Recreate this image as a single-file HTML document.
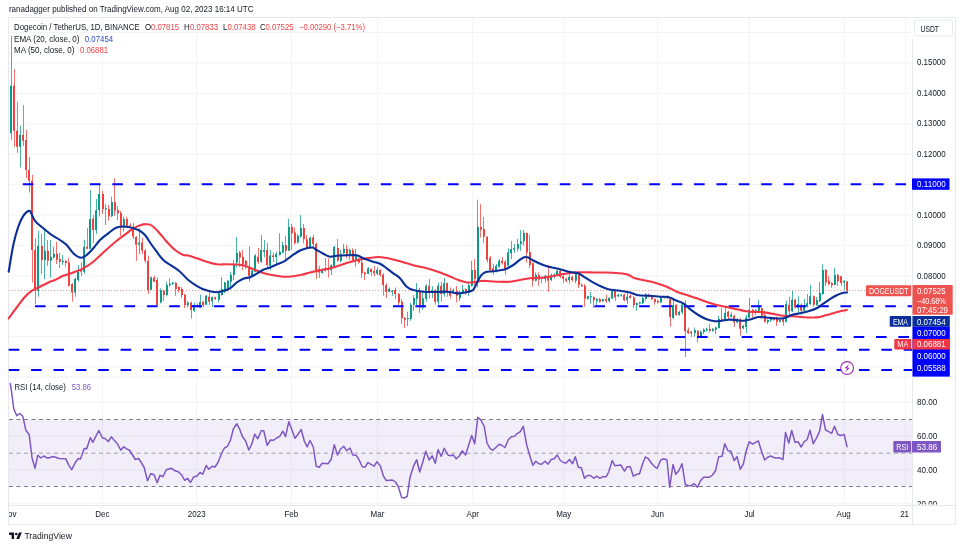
<!DOCTYPE html>
<html><head><meta charset="utf-8"><title>DOGEUSDT chart</title>
<style>html,body{margin:0;padding:0;background:#fff}svg{display:block}</style></head>
<body><svg width="963" height="546" viewBox="0 0 963 546" font-family='"Liberation Sans", sans-serif'>
<rect width="963" height="546" fill="#fff"/>
<path d="M102.5 18V505M196.7 18V505M291.3 18V505M377.5 18V505M472.8 18V505M563.7 18V505M657.5 18V505M749.5 18V505M844.5 18V505M905.5 18V505M9 32.5H912M9 63H912M9 93.4H912M9 123.8H912M9 154.2H912M9 184.6H912M9 215H912M9 245.4H912M9 275.8H912M9 306.2H912M9 336.6H912M9 367H912M9 402.2H912M9 436H912M9 469.8H912M9 503.3H912" stroke="#f2f3f5" stroke-width="1" fill="none"/>
<rect x="9" y="419.5" width="903.5" height="67" fill="#7e57c2" fill-opacity="0.1"/>
<path d="M9 419.5H912M9 486.5H912" stroke="#787b86" stroke-width="1" stroke-dasharray="3.9 3.6" fill="none"/>
<path d="M9 453.2H912" stroke="#787b86" stroke-opacity="0.7" stroke-width="1" stroke-dasharray="3.9 3.6" fill="none"/>
<path d="M8.5 377H955" stroke="#eceef3" stroke-width="1" fill="none"/>
<path d="M8.5 505.5H955M912.5 39V524.5" stroke="#e5e8ef" stroke-width="1" fill="none"/>
<rect x="8.5" y="17.5" width="947" height="507" fill="none" stroke="#e5e8ef" stroke-width="1"/>
<path d="M9 290.5H912" stroke="#ee423f" stroke-width="1" stroke-dasharray="1 2" stroke-opacity="0.55" fill="none"/>
<path d="M11.5 36.0V139.7M20.5 125.8V167.5M38.5 230.8V296.7M44.5 230.0V279.0M50.5 240.0V277.5M53.5 246.7V258.5M62.5 255.0V265.0M75.5 277.5V296.7M78.5 265.0V281.7M84.5 239.7V273.8M90.5 190.0V249.0M96.5 199.0V234.0M99.5 184.0V216.7M105.5 204.0V225.0M111.5 196.7V217.0M123.5 216.7V231.7M139.5 228.0V254.0M151.5 276.5V290.0M160.5 288.3V303.3M166.5 282.0V296.3M169.5 278.3V286.7M172.5 281.7V285.0M187.5 301.3V307.5M194.5 302.5V312.0M200.5 294.7V308.0M206.5 295.0V305.0M212.5 296.7V307.0M218.5 292.5V302.5M221.5 277.0V295.8M224.5 281.7V293.3M227.5 280.0V291.3M230.5 271.7V287.0M233.5 260.0V280.0M236.5 237.0V267.5M252.5 270.0V276.5M255.5 254.0V272.0M261.5 235.0V263.0M264.5 240.0V257.5M270.5 250.0V270.3M276.5 251.7V264.0M279.5 233.3V255.5M282.5 241.7V253.3M288.5 218.7V251.0M297.5 234.0V243.5M300.5 215.0V237.5M310.5 236.7V248.0M322.5 268.3V273.7M331.5 264.2V275.0M334.5 245.5V267.5M340.5 249.7V262.5M343.5 243.8V254.2M349.5 248.7V260.0M355.5 249.0V266.7M368.5 267.0V274.2M377.5 267.5V275.0M389.5 287.5V292.5M392.5 290.0V295.8M407.5 311.7V326.0M410.5 303.0V320.8M413.5 295.0V310.8M416.5 283.0V305.0M422.5 290.8V309.7M426.5 284.0V301.7M432.5 286.3V298.0M438.5 282.5V305.0M444.5 278.0V296.7M453.5 288.3V293.3M459.5 291.0V300.8M462.5 285.0V294.2M468.5 283.0V296.0M471.5 260.8V286.7M477.5 199.7V287.5M496.5 264.0V272.5M499.5 259.0V267.5M508.5 248.3V266.7M511.5 240.8V259.0M514.5 244.0V253.0M517.5 239.0V251.7M520.5 230.0V250.8M523.5 230.0V245.8M535.5 272.5V281.5M545.5 275.0V282.5M551.5 273.3V281.3M554.5 273.3V278.3M557.5 269.7V275.8M569.5 274.0V283.7M575.5 271.7V283.3M587.5 295.8V299.7M590.5 292.0V303.7M596.5 298.3V305.0M602.5 298.5V302.0M609.5 297.0V302.5M612.5 289.7V299.2M618.5 293.7V297.0M621.5 294.0V296.7M627.5 292.5V304.0M636.5 302.5V310.8M639.5 301.7V304.5M642.5 297.0V304.2M645.5 293.3V300.8M660.5 295.8V303.3M664.5 296.3V298.7M673.5 299.7V319.2M679.5 310.8V315.8M682.5 302.5V314.2M694.5 327.5V336.7M700.5 330.3V337.0M703.5 328.3V334.2M706.5 327.5V331.7M712.5 328.0V331.7M715.5 326.7V334.0M718.5 315.8V328.5M725.5 305.8V320.3M731.5 312.5V317.5M737.5 318.3V323.3M743.5 325.0V329.2M746.5 315.0V333.0M749.5 298.0V318.3M755.5 309.2V315.0M758.5 300.0V311.7M767.5 319.2V324.0M770.5 317.5V322.0M779.5 318.7V322.5M786.5 300.8V322.5M792.5 290.8V312.0M798.5 296.3V313.0M804.5 299.0V311.7M807.5 294.0V307.5M810.5 285.0V305.0M816.5 297.0V305.8M819.5 282.0V302.0M822.5 264.0V294.7M834.5 268.0V285.3M844.5 280.0V290.0" stroke="#0e9a88" stroke-width="1" stroke-opacity="0.75" fill="none"/>
<path d="M14.5 69.2V146.7M17.5 101.7V153.0M23.5 105.0V146.0M26.5 130.0V178.0M29.5 157.0V192.5M32.5 175.0V282.5M35.5 238.3V304.0M41.5 234.0V274.0M47.5 240.0V265.8M56.5 241.7V264.0M59.5 253.0V268.0M65.5 260.0V266.7M68.5 258.0V286.7M72.5 283.0V301.7M81.5 262.5V276.0M87.5 228.0V249.0M93.5 215.0V243.0M102.5 191.0V214.0M108.5 205.0V220.8M114.5 178.3V215.8M117.5 206.0V220.0M120.5 211.0V235.8M126.5 216.7V227.5M130.5 223.3V227.5M133.5 223.0V239.0M136.5 236.0V260.8M142.5 238.0V254.0M145.5 249.0V263.0M148.5 255.8V294.0M154.5 275.8V282.0M157.5 277.5V306.0M163.5 290.0V300.8M175.5 282.0V295.8M178.5 286.3V292.5M181.5 287.0V298.0M184.5 294.0V308.3M191.5 301.5V318.5M197.5 303.3V307.5M203.5 300.8V307.0M209.5 290.3V305.0M215.5 296.7V300.0M239.5 250.8V267.0M242.5 250.0V270.3M245.5 260.0V269.2M249.5 245.8V281.7M258.5 248.0V264.0M267.5 242.5V269.0M273.5 252.5V262.0M285.5 235.8V260.8M291.5 224.0V250.0M294.5 227.5V244.7M303.5 224.0V243.3M306.5 235.0V249.0M313.5 234.7V249.0M316.5 242.5V279.0M319.5 265.8V278.0M325.5 258.0V271.7M328.5 258.3V277.5M337.5 239.0V261.7M346.5 245.0V258.3M352.5 248.3V260.8M358.5 257.5V263.7M361.5 258.0V277.8M364.5 271.7V280.0M371.5 268.3V275.8M374.5 266.0V276.3M380.5 269.2V276.7M383.5 273.3V295.8M386.5 283.3V298.0M395.5 287.5V299.0M398.5 293.0V305.0M401.5 299.0V324.0M404.5 317.0V328.0M419.5 288.0V313.0M429.5 279.0V298.7M435.5 289.0V304.7M441.5 281.7V301.7M447.5 282.5V296.7M450.5 287.5V298.3M456.5 286.0V302.5M465.5 288.3V295.0M474.5 259.0V285.0M480.5 204.0V237.5M483.5 217.0V243.0M487.5 236.0V262.5M490.5 256.0V272.0M493.5 264.0V274.7M502.5 257.0V264.7M505.5 260.0V274.7M526.5 232.5V262.5M529.5 234.7V268.0M532.5 262.5V286.7M538.5 272.5V285.8M541.5 276.7V283.0M548.5 265.0V291.7M560.5 269.2V278.0M563.5 275.5V283.0M566.5 277.5V282.5M572.5 275.8V281.7M578.5 273.0V288.0M581.5 283.3V287.0M584.5 284.2V306.7M593.5 296.3V308.0M599.5 298.0V302.5M606.5 294.7V303.0M615.5 290.0V300.8M624.5 293.7V301.3M630.5 294.2V298.7M633.5 296.3V308.0M648.5 293.7V297.5M651.5 295.8V300.3M654.5 298.3V304.7M657.5 299.7V303.7M667.5 295.3V299.0M670.5 297.5V326.7M676.5 304.0V315.8M685.5 300.0V357.0M688.5 327.5V334.2M691.5 331.0V337.0M697.5 330.0V342.5M709.5 323.7V332.5M721.5 307.5V320.8M728.5 310.8V320.0M734.5 314.7V327.0M740.5 318.0V335.8M752.5 308.7V317.5M761.5 307.5V319.0M764.5 310.8V322.5M773.5 317.5V320.8M776.5 316.7V326.0M783.5 318.3V325.8M789.5 296.7V317.5M795.5 298.7V308.3M801.5 303.3V314.7M813.5 295.3V306.7M825.5 269.0V285.8M828.5 275.8V285.3M831.5 282.0V288.0M837.5 273.7V285.8M841.5 275.8V285.8M847.5 281.1V293.1" stroke="#ee423f" stroke-width="1" stroke-opacity="0.75" fill="none"/>
<path d="M10 85.8h2V133.3h-2zM19 135.0h2V146.7h-2zM37 245.8h2V290.8h-2zM44 250.8h2V260.0h-2zM50 256.7h2V260.8h-2zM53 253.7h2V257.5h-2zM62 260.8h2V262.0h-2zM74 279.0h2V292.5h-2zM77 270.0h2V280.0h-2zM83 246.7h2V271.7h-2zM89 219.0h2V248.7h-2zM95 210.3h2V230.0h-2zM98 194.0h2V210.0h-2zM105 208.3h2V209.5h-2zM111 202.0h2V216.3h-2zM123 219.0h2V227.5h-2zM138 242.5h2V244.7h-2zM150 277.5h2V289.7h-2zM160 290.3h2V302.5h-2zM166 284.7h2V295.0h-2zM169 283.7h2V285.3h-2zM172 282.8h2V284.0h-2zM187 302.5h2V305.3h-2zM193 305.0h2V310.8h-2zM199 302.0h2V307.5h-2zM205 295.8h2V304.7h-2zM211 297.0h2V301.3h-2zM218 293.3h2V299.7h-2zM221 289.0h2V295.0h-2zM224 282.5h2V291.7h-2zM227 280.8h2V288.0h-2zM230 274.7h2V281.7h-2zM233 265.0h2V275.0h-2zM236 253.0h2V262.5h-2zM251 270.8h2V275.8h-2zM254 255.5h2V271.7h-2zM260 250.0h2V261.7h-2zM263 250.0h2V251.7h-2zM269 255.5h2V265.8h-2zM275 254.0h2V257.0h-2zM279 251.7h2V255.0h-2zM282 245.0h2V252.5h-2zM288 227.0h2V250.8h-2zM297 235.8h2V242.5h-2zM300 228.0h2V236.7h-2zM309 237.5h2V247.5h-2zM321 269.0h2V273.0h-2zM330 265.3h2V270.0h-2zM333 247.0h2V266.3h-2zM340 253.8h2V260.8h-2zM343 248.7h2V253.3h-2zM349 250.0h2V254.7h-2zM355 255.0h2V260.0h-2zM367 268.3h2V273.7h-2zM376 270.0h2V273.7h-2zM388 288.7h2V291.7h-2zM391 290.8h2V292.0h-2zM407 318.0h2V319.0h-2zM410 304.7h2V318.7h-2zM413 298.0h2V304.7h-2zM416 291.7h2V298.7h-2zM422 298.3h2V307.5h-2zM425 285.8h2V299.0h-2zM431 290.0h2V292.5h-2zM437 285.8h2V301.7h-2zM443 283.3h2V294.0h-2zM452 290.0h2V292.5h-2zM459 292.5h2V298.0h-2zM462 289.7h2V293.0h-2zM468 285.3h2V293.0h-2zM471 270.0h2V285.8h-2zM477 226.7h2V280.0h-2zM495 265.8h2V271.3h-2zM498 260.8h2V266.7h-2zM507 252.5h2V265.8h-2zM510 249.0h2V253.3h-2zM513 248.0h2V249.7h-2zM517 244.0h2V248.7h-2zM520 241.3h2V244.0h-2zM523 233.0h2V241.3h-2zM535 274.7h2V280.8h-2zM544 275.8h2V279.0h-2zM550 275.3h2V280.0h-2zM553 274.7h2V277.0h-2zM556 270.8h2V275.0h-2zM568 276.7h2V280.3h-2zM575 274.0h2V280.8h-2zM587 296.3h2V298.7h-2zM590 296.3h2V297.3h-2zM596 299.0h2V300.8h-2zM602 299.2h2V301.3h-2zM608 298.0h2V301.3h-2zM611 290.8h2V298.3h-2zM617 294.7h2V296.3h-2zM620 294.7h2V295.8h-2zM626 296.7h2V300.3h-2zM636 303.0h2V305.0h-2zM639 302.5h2V303.7h-2zM642 298.0h2V303.3h-2zM645 294.0h2V299.0h-2zM660 297.5h2V302.5h-2zM663 297.0h2V298.0h-2zM672 305.0h2V318.0h-2zM678 311.7h2V314.7h-2zM681 304.7h2V312.5h-2zM694 330.3h2V333.0h-2zM700 331.7h2V336.3h-2zM703 329.7h2V332.0h-2zM706 328.7h2V330.3h-2zM712 329.0h2V330.8h-2zM715 327.5h2V329.7h-2zM718 319.0h2V328.0h-2zM724 313.0h2V319.7h-2zM730 314.7h2V316.7h-2zM736 320.0h2V322.5h-2zM742 325.8h2V328.3h-2zM745 317.5h2V327.0h-2zM748 309.7h2V317.5h-2zM755 310.3h2V312.5h-2zM758 305.5h2V310.8h-2zM767 320.0h2V322.0h-2zM770 318.3h2V320.3h-2zM779 319.7h2V321.7h-2zM785 304.0h2V321.7h-2zM791 299.7h2V311.3h-2zM797 304.0h2V307.5h-2zM803 305.0h2V310.8h-2zM806 303.3h2V306.3h-2zM809 296.3h2V304.0h-2zM816 300.0h2V304.7h-2zM819 293.0h2V301.3h-2zM822 270.0h2V294.0h-2zM834 275.0h2V284.7h-2zM843 280.8h2V282.5h-2z" fill="#0e9a88"/>
<path d="M13 85.8h2V130.8h-2zM16 130.8h2V146.7h-2zM22 135.0h2V140.8h-2zM25 140.0h2V170.0h-2zM28 170.0h2V180.8h-2zM31 180.8h2V250.0h-2zM34 250.0h2V290.8h-2zM41 245.8h2V260.0h-2zM47 250.8h2V260.8h-2zM56 253.7h2V259.7h-2zM59 259.0h2V261.7h-2zM65 261.0h2V263.0h-2zM68 262.5h2V285.8h-2zM71 284.0h2V292.5h-2zM80 270.0h2V271.7h-2zM86 246.7h2V248.7h-2zM92 218.7h2V230.0h-2zM102 194.0h2V209.0h-2zM108 209.0h2V216.3h-2zM114 202.0h2V210.8h-2zM117 210.0h2V213.3h-2zM120 213.0h2V227.5h-2zM126 219.0h2V225.8h-2zM129 225.3h2V226.7h-2zM132 226.7h2V236.7h-2zM135 237.0h2V244.7h-2zM141 242.5h2V250.5h-2zM144 250.5h2V260.8h-2zM147 260.8h2V290.0h-2zM153 277.5h2V281.7h-2zM156 280.0h2V305.0h-2zM163 290.8h2V295.0h-2zM175 282.8h2V289.0h-2zM178 287.0h2V290.0h-2zM181 289.0h2V295.0h-2zM184 294.7h2V305.0h-2zM190 302.5h2V310.0h-2zM196 305.0h2V306.7h-2zM202 301.7h2V305.0h-2zM208 296.7h2V301.7h-2zM214 297.2h2V299.0h-2zM239 252.5h2V257.5h-2zM242 257.0h2V264.0h-2zM245 260.8h2V265.0h-2zM248 267.5h2V275.8h-2zM257 256.7h2V262.0h-2zM266 250.0h2V265.0h-2zM272 255.5h2V257.0h-2zM285 245.0h2V250.8h-2zM291 226.7h2V233.3h-2zM294 232.5h2V243.0h-2zM303 228.0h2V239.2h-2zM306 239.2h2V247.5h-2zM312 237.5h2V244.0h-2zM315 244.0h2V271.7h-2zM318 269.0h2V272.5h-2zM324 268.3h2V270.8h-2zM327 269.0h2V270.3h-2zM337 248.0h2V260.8h-2zM346 249.0h2V254.7h-2zM352 250.3h2V260.0h-2zM358 258.7h2V262.5h-2zM361 262.5h2V273.3h-2zM364 272.5h2V274.0h-2zM370 269.0h2V272.0h-2zM373 270.8h2V273.3h-2zM379 270.0h2V275.0h-2zM382 274.7h2V285.0h-2zM385 285.0h2V291.7h-2zM394 290.0h2V294.0h-2zM398 294.0h2V302.5h-2zM401 301.7h2V318.3h-2zM404 318.0h2V319.7h-2zM419 291.7h2V307.5h-2zM428 285.8h2V292.5h-2zM434 290.0h2V301.7h-2zM440 285.8h2V294.0h-2zM446 283.3h2V292.5h-2zM449 290.8h2V295.8h-2zM456 290.8h2V295.8h-2zM465 289.0h2V293.3h-2zM474 270.0h2V279.0h-2zM480 227.0h2V229.7h-2zM483 229.0h2V236.7h-2zM486 237.0h2V259.7h-2zM489 257.5h2V270.0h-2zM492 268.3h2V271.7h-2zM501 260.8h2V263.3h-2zM504 261.7h2V270.0h-2zM526 233.0h2V252.5h-2zM529 252.0h2V265.0h-2zM532 263.3h2V280.8h-2zM538 275.0h2V279.7h-2zM541 277.5h2V279.0h-2zM547 275.8h2V280.8h-2zM559 270.8h2V276.7h-2zM562 276.3h2V279.0h-2zM565 278.7h2V280.8h-2zM571 276.7h2V280.0h-2zM578 274.0h2V285.0h-2zM581 284.7h2V286.3h-2zM584 285.8h2V298.7h-2zM593 297.0h2V300.0h-2zM599 299.0h2V301.7h-2zM605 299.0h2V301.3h-2zM614 290.8h2V297.5h-2zM623 294.7h2V300.3h-2zM629 295.8h2V298.0h-2zM633 297.5h2V305.0h-2zM648 294.7h2V296.7h-2zM651 296.3h2V299.0h-2zM654 299.0h2V302.0h-2zM657 300.8h2V302.5h-2zM666 296.7h2V298.3h-2zM669 298.3h2V317.0h-2zM675 305.0h2V314.7h-2zM684 304.7h2V331.3h-2zM687 330.3h2V333.0h-2zM690 331.7h2V333.3h-2zM697 330.8h2V336.7h-2zM709 328.7h2V330.8h-2zM721 318.7h2V319.7h-2zM727 311.7h2V316.7h-2zM733 315.8h2V322.5h-2zM739 319.7h2V328.7h-2zM752 310.0h2V312.5h-2zM761 308.3h2V315.8h-2zM764 315.3h2V321.7h-2zM773 318.3h2V320.0h-2zM776 317.5h2V321.7h-2zM782 319.2h2V321.7h-2zM788 304.7h2V311.3h-2zM794 299.7h2V307.5h-2zM800 304.7h2V310.8h-2zM813 296.3h2V304.7h-2zM825 270.0h2V282.5h-2zM828 280.8h2V284.0h-2zM831 283.0h2V285.3h-2zM837 275.0h2V281.3h-2zM840 276.3h2V283.0h-2zM846 281.6h2V290.5h-2z" fill="#ee423f"/>
<path d="M22.8 184.3H912" stroke="#0000ff" stroke-width="2" stroke-dasharray="10.6 11.775" fill="none"/>
<path d="M35 306.2H912" stroke="#0000ff" stroke-width="2" stroke-dasharray="10.6 11.775" fill="none"/>
<path d="M160 337H912" stroke="#0000ff" stroke-width="2" stroke-dasharray="10.6 11.775" fill="none"/>
<path d="M8.7 349.7H912" stroke="#0000ff" stroke-width="2" stroke-dasharray="10.6 11.775" fill="none"/>
<path d="M8.7 370H912" stroke="#0000ff" stroke-width="2" stroke-dasharray="10.6 11.775" fill="none"/>
<path d="M8.7 318.3C10.0 316.5 14.0 311.1 16.7 307.5C19.4 303.9 22.5 299.5 25.0 296.7C27.5 293.9 29.2 292.5 31.7 290.8C34.2 289.1 37.0 288.2 40.0 286.7C43.0 285.2 47.5 282.8 50.0 281.7C52.5 280.6 52.8 281.0 55.0 280.0C57.2 279.0 60.2 277.1 63.3 275.8C66.3 274.6 70.0 273.8 73.3 272.5C76.6 271.2 80.0 270.1 83.3 268.3C86.6 266.5 90.0 264.3 93.3 261.7C96.6 259.1 99.4 256.0 103.3 252.5C107.2 249.0 112.8 244.0 116.7 240.8C120.6 237.6 123.9 235.4 126.7 233.3C129.5 231.2 130.8 229.7 133.3 228.3C135.8 226.9 139.5 225.4 141.7 224.7C143.9 224.0 145.0 224.1 146.7 224.2C148.4 224.3 149.8 224.2 151.7 225.5C153.6 226.8 155.8 229.0 158.3 231.7C160.8 234.4 163.9 238.6 166.7 241.7C169.5 244.8 172.2 247.8 175.0 250.0C177.8 252.2 181.1 254.1 183.3 255.0C185.5 255.9 186.1 254.9 188.3 255.5C190.5 256.1 193.6 257.3 196.7 258.3C199.8 259.3 203.4 260.7 206.7 261.7C210.0 262.7 213.4 263.9 216.7 264.3C220.0 264.7 223.4 264.2 226.7 264.2C230.0 264.2 233.6 264.2 236.7 264.5C239.8 264.8 242.2 265.0 245.0 265.8C247.8 266.6 250.2 268.0 253.3 269.2C256.4 270.4 260.0 272.0 263.3 273.0C266.6 274.0 270.0 274.7 273.3 275.3C276.6 275.9 280.0 276.6 283.3 276.7C286.6 276.8 290.2 276.5 293.3 276.2C296.4 275.9 298.9 275.3 301.7 274.7C304.5 274.1 306.9 273.2 310.0 272.5C313.1 271.8 316.7 271.0 320.0 270.3C323.3 269.6 326.9 269.1 330.0 268.3C333.1 267.6 335.5 266.7 338.3 265.8C341.1 264.9 343.6 263.9 346.7 263.0C349.8 262.1 353.4 261.1 356.7 260.3C360.0 259.5 363.6 258.8 366.7 258.3C369.8 257.8 372.5 257.4 375.0 257.2C377.5 257.0 379.5 257.0 381.7 257.2C383.9 257.4 385.2 257.6 388.3 258.3C391.4 259.0 395.8 260.1 400.0 261.3C404.2 262.5 408.9 264.1 413.3 265.3C417.8 266.5 422.2 267.1 426.7 268.3C431.1 269.5 436.1 271.1 440.0 272.5C443.9 273.9 446.9 275.2 450.0 276.5C453.1 277.8 455.5 279.0 458.3 280.0C461.1 281.0 463.9 282.2 466.7 282.5C469.5 282.8 472.2 282.3 475.0 282.0C477.8 281.7 479.7 280.9 483.3 280.8C486.9 280.8 492.2 281.6 496.7 281.7C501.1 281.8 506.1 282.0 510.0 281.7C513.9 281.4 516.7 280.6 520.0 280.0C523.3 279.4 526.7 278.7 530.0 278.3C533.3 277.9 536.7 278.1 540.0 277.8C543.3 277.5 546.7 277.2 550.0 276.7C553.3 276.2 556.7 275.3 560.0 274.7C563.3 274.1 566.7 273.4 570.0 273.0C573.3 272.6 576.1 272.3 580.0 272.2C583.9 272.1 590.0 272.4 593.3 272.5C596.6 272.6 596.7 272.4 600.0 272.5C603.3 272.6 608.8 272.5 613.3 272.8C617.8 273.1 623.1 273.3 626.7 274.2C630.3 275.1 631.7 277.2 635.0 278.3C638.3 279.4 643.1 280.0 646.7 280.8C650.3 281.6 653.4 282.3 656.7 283.3C660.0 284.3 663.4 285.3 666.7 286.7C670.0 288.1 673.4 290.3 676.7 291.7C680.0 293.1 683.4 293.9 686.7 295.0C690.0 296.1 693.4 297.1 696.7 298.3C700.0 299.5 703.4 300.9 706.7 302.0C710.0 303.1 713.4 304.2 716.7 305.0C720.0 305.8 723.4 306.3 726.7 307.0C730.0 307.7 733.4 308.5 736.7 309.2C740.0 309.9 743.9 310.8 746.7 311.3C749.5 311.8 751.1 311.9 753.3 312.0C755.5 312.1 758.0 311.9 760.0 312.0C762.0 312.1 762.5 312.1 765.0 312.5C767.5 312.9 772.0 313.6 775.0 314.2C778.0 314.8 780.2 315.4 783.3 315.8C786.3 316.2 790.0 316.1 793.3 316.3C796.6 316.5 800.0 317.0 803.3 317.2C806.6 317.4 810.5 317.5 813.3 317.5C816.1 317.5 817.8 317.4 820.0 317.0C822.2 316.6 824.5 315.6 826.7 315.0C828.9 314.4 831.1 313.9 833.3 313.3C835.5 312.7 837.7 311.8 840.0 311.2C842.3 310.6 845.8 310.2 847.0 310.0" stroke="#f23645" stroke-width="2.1" fill="none" stroke-linejoin="round" stroke-linecap="round"/>
<path d="M8.7 271.7C9.5 267.2 11.7 252.5 13.3 245.0C14.9 237.5 16.6 231.6 18.3 226.7C20.0 221.8 21.5 218.5 23.3 215.8C25.1 213.2 27.8 211.1 29.2 210.8C30.6 210.5 30.7 212.5 31.7 214.2C32.7 215.9 33.1 218.5 35.0 220.8C36.9 223.2 40.5 225.9 43.3 228.3C46.1 230.7 48.9 233.1 51.7 235.0C54.5 236.9 57.5 238.3 60.0 240.0C62.5 241.7 64.5 242.8 66.7 245.0C68.9 247.2 71.0 251.2 73.3 253.3C75.6 255.4 78.6 257.5 80.8 257.8C83.0 258.1 84.6 256.6 86.7 255.0C88.8 253.4 91.1 250.8 93.3 248.3C95.5 245.8 97.5 242.5 100.0 240.0C102.5 237.5 105.5 235.4 108.3 233.3C111.1 231.2 113.6 228.6 116.7 227.5C119.8 226.4 123.1 226.3 126.7 226.7C130.3 227.1 135.2 228.6 138.3 230.0C141.4 231.4 143.1 232.9 145.0 235.0C146.9 237.1 148.1 239.7 150.0 242.5C151.9 245.3 154.5 248.8 156.7 251.7C158.9 254.6 160.8 257.6 163.3 260.0C165.8 262.4 168.9 263.9 171.7 265.8C174.5 267.8 177.2 269.3 180.0 271.7C182.8 274.1 185.5 277.6 188.3 280.0C191.1 282.4 194.2 284.3 196.7 285.8C199.2 287.3 201.1 288.3 203.3 289.2C205.5 290.1 207.8 290.7 210.0 291.2C212.2 291.7 214.8 292.2 216.7 292.2C218.6 292.2 219.5 291.9 221.7 291.3C223.9 290.7 227.5 289.8 230.0 288.3C232.5 286.8 234.5 284.1 236.7 282.5C238.9 280.9 241.1 279.6 243.3 278.7C245.5 277.8 247.8 278.0 250.0 277.2C252.2 276.4 254.5 274.9 256.7 273.7C258.9 272.4 261.1 270.7 263.3 269.7C265.5 268.7 267.8 268.4 270.0 267.5C272.2 266.6 274.2 265.6 276.7 264.5C279.2 263.4 282.5 262.2 285.0 260.8C287.5 259.4 289.2 257.5 291.7 255.8C294.2 254.1 297.5 251.8 300.0 250.5C302.5 249.2 304.6 248.8 306.7 248.3C308.8 247.8 310.8 247.2 312.5 247.5C314.2 247.8 314.9 249.0 316.7 250.0C318.5 251.0 321.1 252.6 323.3 253.7C325.5 254.8 327.8 256.3 330.0 256.7C332.2 257.1 333.9 256.0 336.7 255.8C339.5 255.6 343.4 255.4 346.7 255.3C350.0 255.2 353.9 254.8 356.7 255.3C359.5 255.8 360.8 257.3 363.3 258.3C365.8 259.3 368.9 260.4 371.7 261.3C374.5 262.2 377.5 262.5 380.0 263.7C382.5 264.9 384.5 266.7 386.7 268.3C388.9 269.9 391.1 271.6 393.3 273.3C395.5 275.0 397.8 276.1 400.0 278.3C402.2 280.5 404.5 284.8 406.7 286.7C408.9 288.6 410.5 289.2 413.3 290.0C416.1 290.8 420.0 291.4 423.3 291.7C426.6 292.0 429.4 292.0 433.3 292.0C437.2 292.0 443.1 291.5 446.7 291.7C450.3 291.9 452.8 292.7 455.0 293.0C457.2 293.3 457.8 293.5 460.0 293.3C462.2 293.1 466.1 292.3 468.3 291.7C470.5 291.1 471.9 291.1 473.3 289.7C474.7 288.3 475.4 285.6 476.7 283.3C477.9 281.0 479.3 277.7 480.8 275.8C482.3 273.9 483.7 272.8 485.8 272.0C487.9 271.2 490.1 271.8 493.3 271.3C496.5 270.8 501.7 270.2 505.0 269.2C508.3 268.1 510.8 266.6 513.3 265.0C515.8 263.4 518.2 261.0 520.0 259.7C521.8 258.4 522.8 257.6 524.2 257.2C525.6 256.8 526.8 256.9 528.3 257.5C529.8 258.1 530.8 259.2 533.3 260.5C535.8 261.8 540.0 263.8 543.3 265.0C546.6 266.2 550.5 267.1 553.3 267.8C556.1 268.5 557.2 268.5 560.0 269.2C562.8 269.9 567.0 271.3 570.0 272.0C573.0 272.7 576.1 272.6 578.3 273.3C580.5 274.0 581.1 274.9 583.3 276.3C585.5 277.7 588.9 280.1 591.7 281.7C594.5 283.3 597.2 284.8 600.0 286.0C602.8 287.2 605.0 288.4 608.3 289.2C611.6 290.0 616.4 290.2 620.0 290.8C623.6 291.4 627.0 291.8 630.0 292.5C633.0 293.2 635.0 294.8 638.3 295.3C641.6 295.9 646.4 295.6 650.0 295.8C653.6 296.0 657.0 296.5 660.0 296.7C663.0 296.9 665.8 296.4 668.3 297.0C670.8 297.6 672.5 298.9 675.0 300.0C677.5 301.1 680.8 301.8 683.3 303.3C685.8 304.8 687.5 307.2 690.0 309.2C692.5 311.1 695.5 313.3 698.3 315.0C701.1 316.7 703.9 318.2 706.7 319.2C709.5 320.2 712.5 320.9 715.0 321.2C717.5 321.5 719.5 321.1 721.7 320.8C723.9 320.6 725.8 319.8 728.3 319.7C730.8 319.6 734.2 319.8 736.7 320.0C739.2 320.2 741.1 320.9 743.3 320.8C745.5 320.7 747.5 320.1 750.0 319.5C752.5 318.9 755.5 317.3 758.3 317.0C761.1 316.7 763.9 317.3 766.7 317.5C769.5 317.7 772.2 318.2 775.0 318.3C777.8 318.4 780.5 318.9 783.3 318.3C786.1 317.8 788.9 315.8 791.7 315.0C794.5 314.2 797.2 313.9 800.0 313.3C802.8 312.7 805.5 312.1 808.3 311.3C811.1 310.5 814.2 309.6 816.7 308.3C819.2 307.0 821.1 305.2 823.3 303.7C825.5 302.2 827.8 300.6 830.0 299.2C832.2 297.8 834.8 296.3 836.7 295.3C838.7 294.3 840.0 293.8 841.7 293.3C843.4 292.8 846.1 292.6 847.0 292.5" stroke="#0b2f98" stroke-width="2.1" fill="none" stroke-linejoin="round" stroke-linecap="round"/>
<path d="M10.3 383.5L11.7 392.7L13.7 408.5L16.7 415.7L19.7 413.5L22.8 416.3L25.8 430.2L29.2 434.7L32.0 457.7L35.0 468.3L37.8 455.2L40.8 458.0L43.8 456.0L47.5 458.2L53.3 456.5L59.2 458.5L65.8 458.8L69.2 465.8L71.7 469.7L75.8 461.7L78.3 458.5L80.5 459.0L84.2 448.5L86.7 448.8L90.3 437.7L92.8 442.3L98.8 430.5L102.5 438.0L105.0 438.5L108.3 441.5L111.3 436.8L114.2 440.2L117.2 443.5L120.8 450.2L123.7 446.8L126.7 448.8L129.7 450.5L135.3 459.5L138.7 458.5L144.2 467.5L147.5 480.8L150.8 473.5L154.2 475.0L157.2 482.7L160.0 475.3L163.0 476.7L166.2 469.7L171.7 468.3L175.0 470.8L178.3 471.7L181.7 475.0L184.7 480.3L187.5 478.3L190.5 482.5L193.8 476.7L196.7 476.3L200.0 472.5L202.8 474.2L206.2 465.5L208.8 469.2L212.2 466.3L215.0 467.0L218.0 462.5L221.7 453.0L224.5 448.0L227.5 446.3L230.5 440.0L233.3 429.2L236.7 423.7L239.7 429.2L242.5 436.7L245.5 440.8L248.8 450.0L251.7 444.2L254.7 434.2L257.8 438.7L261.2 430.8L263.8 430.8L267.2 445.3L270.5 440.0L273.3 440.3L276.7 438.0L279.7 436.3L282.8 431.2L285.5 436.7L288.8 421.7L291.7 429.2L295.0 438.3L298.0 434.2L301.2 429.5L304.2 440.8L307.2 447.0L310.0 440.5L313.3 447.0L316.2 466.2L319.2 467.2L322.2 463.3L328.0 463.8L331.2 459.2L334.3 444.7L337.5 455.0L340.5 449.2L343.8 446.3L346.7 450.8L350.0 448.0L352.8 455.0L356.2 455.3L358.8 459.2L362.2 466.7L365.0 467.2L368.0 462.5L371.3 464.7L374.2 466.2L377.0 461.7L380.5 466.3L383.3 475.8L386.3 480.5L392.5 480.0L395.5 482.0L398.3 486.7L401.7 497.5L404.2 498.0L407.2 496.3L410.0 477.5L413.3 466.7L416.7 459.7L419.7 472.0L422.8 462.0L425.8 451.3L429.2 460.0L432.2 455.8L435.3 463.3L438.0 449.7L441.3 456.3L444.2 448.3L448.0 455.0L450.8 455.8L453.3 455.0L456.3 458.8L459.5 455.8L462.2 450.8L465.5 455.0L468.7 445.0L471.7 435.5L474.7 443.8L477.8 417.2L480.8 420.0L484.2 426.3L487.0 443.0L490.0 448.3L492.8 450.3L495.8 447.5L499.2 444.2L502.0 445.5L505.0 447.5L508.3 439.7L511.3 436.7L514.5 436.3L517.5 433.3L520.3 431.7L523.3 426.3L526.7 445.0L529.7 455.3L532.8 465.3L535.8 461.2L538.8 463.8L541.7 464.2L545.0 461.3L548.0 464.2L551.2 459.5L554.2 458.7L557.2 455.0L560.3 460.5L563.3 462.5L566.2 463.0L569.5 459.5L572.5 463.7L575.3 456.7L578.3 467.2L581.3 467.8L584.5 478.3L587.5 475.5L590.5 475.5L593.8 478.3L596.7 476.2L600.0 478.3L603.0 476.7L606.2 476.7L608.7 472.0L612.2 460.5L615.0 465.8L620.8 465.0L624.5 471.2L627.2 466.7L630.3 466.7L633.3 476.2L636.3 474.5L639.5 473.7L642.5 464.2L645.3 457.0L648.3 458.7L651.3 463.0L654.2 466.3L657.2 468.3L660.8 460.0L663.8 458.7L667.0 460.0L669.7 487.5L673.0 464.5L675.8 474.2L678.8 470.8L682.0 463.7L685.3 484.5L688.3 485.8L691.2 485.5L694.2 483.7L697.5 487.2L700.5 480.8L703.7 477.2L709.5 477.2L712.5 475.0L715.5 470.8L718.7 456.7L722.0 456.3L724.7 443.8L728.0 450.8L730.8 451.3L734.2 460.5L737.0 456.7L740.3 469.2L743.3 464.2L746.3 450.8L749.2 441.7L752.5 444.2L758.3 440.8L761.7 451.7L764.7 460.0L767.5 457.5L770.5 455.8L773.7 457.5L776.7 458.0L779.7 457.8L783.0 459.5L785.5 432.5L788.8 443.0L791.7 430.5L795.0 442.2L798.0 441.7L801.2 447.0L804.2 441.7L807.2 439.5L810.0 430.3L813.3 443.7L816.3 438.3L819.5 431.7L822.5 414.5L825.5 430.0L828.7 431.7L831.7 433.3L834.5 426.3L837.8 434.5L840.8 435.5L844.2 434.5L847.0 446.7" stroke="#7e57c2" stroke-width="1.5" fill="none" stroke-linejoin="round" stroke-linecap="round"/>
<text x="8.9" y="12.3" font-size="8.4" fill="#131722" textLength="244.6" lengthAdjust="spacingAndGlyphs">ranadagger published on TradingView.com, Aug 02, 2023 16:14 UTC</text>
<text x="14.1" y="30" font-size="8.6" fill="#131722" textLength="125.5" lengthAdjust="spacingAndGlyphs">Dogecoin / TetherUS, 1D, BINANCE</text>
<text x="145" y="30" font-size="8.6" fill="#131722" textLength="6.22" lengthAdjust="spacingAndGlyphs">O</text>
<text x="151" y="30" font-size="8.6" fill="#ef4548" textLength="28" lengthAdjust="spacingAndGlyphs">0.07815</text>
<text x="184" y="30" font-size="8.6" fill="#131722" textLength="5.78" lengthAdjust="spacingAndGlyphs">H</text>
<text x="190" y="30" font-size="8.6" fill="#ef4548" textLength="28" lengthAdjust="spacingAndGlyphs">0.07833</text>
<text x="223" y="30" font-size="8.6" fill="#131722" textLength="4.45" lengthAdjust="spacingAndGlyphs">L</text>
<text x="227.5" y="30" font-size="8.6" fill="#ef4548" textLength="28" lengthAdjust="spacingAndGlyphs">0.07438</text>
<text x="260" y="30" font-size="8.6" fill="#131722" textLength="5.78" lengthAdjust="spacingAndGlyphs">C</text>
<text x="265.5" y="30" font-size="8.6" fill="#ef4548" textLength="28" lengthAdjust="spacingAndGlyphs">0.07525</text>
<text x="299" y="30" font-size="8.6" fill="#ef4548" textLength="66" lengthAdjust="spacingAndGlyphs">−0.00290 (−3.71%)</text>
<text x="14.1" y="42" font-size="8.6" fill="#131722" textLength="65.4" lengthAdjust="spacingAndGlyphs">EMA (20, close, 0)</text>
<text x="84.7" y="42" font-size="8.6" fill="#2a4fc0" textLength="28.5" lengthAdjust="spacingAndGlyphs">0.07454</text>
<text x="14.1" y="53.3" font-size="8.6" fill="#131722" textLength="60.3" lengthAdjust="spacingAndGlyphs">MA (50, close, 0)</text>
<text x="80" y="53.3" font-size="8.6" fill="#ef4548" textLength="28" lengthAdjust="spacingAndGlyphs">0.06881</text>
<text x="14.5" y="390.3" font-size="8.6" fill="#131722" textLength="51.3" lengthAdjust="spacingAndGlyphs">RSI (14, close)</text>
<text x="71.7" y="390.3" font-size="8.6" fill="#7e57c2" textLength="19.3" lengthAdjust="spacingAndGlyphs">53.86</text>
<rect x="914.5" y="20" width="38" height="16" rx="2.5" fill="#fff" stroke="#e5e8ef" stroke-width="1"/>
<text x="920.5" y="31.5" font-size="8.8" fill="#131722" textLength="18.5" lengthAdjust="spacingAndGlyphs">USDT</text>
<text x="917" y="65.3" font-size="8.8" fill="#131722" textLength="28.7" lengthAdjust="spacingAndGlyphs">0.15000</text>
<text x="917" y="96" font-size="8.8" fill="#131722" textLength="28.7" lengthAdjust="spacingAndGlyphs">0.14000</text>
<text x="917" y="126.3" font-size="8.8" fill="#131722" textLength="28.7" lengthAdjust="spacingAndGlyphs">0.13000</text>
<text x="917" y="157" font-size="8.8" fill="#131722" textLength="28.7" lengthAdjust="spacingAndGlyphs">0.12000</text>
<text x="917" y="218" font-size="8.8" fill="#131722" textLength="28.7" lengthAdjust="spacingAndGlyphs">0.10000</text>
<text x="917" y="248.2" font-size="8.8" fill="#131722" textLength="28.7" lengthAdjust="spacingAndGlyphs">0.09000</text>
<text x="917" y="279" font-size="8.8" fill="#131722" textLength="28.7" lengthAdjust="spacingAndGlyphs">0.08000</text>
<rect x="912" y="178.4" width="37.5" height="11.4" fill="#0000ff"/>
<text x="917" y="187.2" font-size="8.8" fill="#fff" textLength="28.7" lengthAdjust="spacingAndGlyphs">0.11000</text>
<rect x="912.5" y="285" width="40.2" height="29.7" fill="#ef5350"/>
<text x="917" y="293.7" font-size="8.8" fill="#fff" textLength="28.7" lengthAdjust="spacingAndGlyphs">0.07525</text>
<text x="917" y="303.5" font-size="8.8" fill="#fff" textLength="28.7" lengthAdjust="spacingAndGlyphs">−40.68%</text>
<text x="917" y="313.2" font-size="8.8" fill="#fff" textLength="31" lengthAdjust="spacingAndGlyphs">07:45:29</text>
<rect x="866" y="285.3" width="45.2" height="11" rx="1" fill="#ef5350"/>
<text x="869" y="294" font-size="8.8" fill="#fff" textLength="39.5" lengthAdjust="spacingAndGlyphs">DOGEUSDT</text>
<rect x="889.7" y="316" width="21.5" height="10.8" rx="1" fill="#0b2f98"/>
<text x="893" y="324.5" font-size="8.8" fill="#fff" textLength="15" lengthAdjust="spacingAndGlyphs">EMA</text>
<rect x="912.5" y="316" width="37.3" height="10.8" fill="#0b2f98"/>
<text x="917" y="324.5" font-size="8.8" fill="#fff" textLength="28.7" lengthAdjust="spacingAndGlyphs">0.07454</text>
<rect x="912.5" y="326.8" width="37.3" height="49.8" fill="#0000ff"/>
<text x="917" y="336" font-size="8.8" fill="#fff" textLength="28.7" lengthAdjust="spacingAndGlyphs">0.07000</text>
<text x="917" y="359" font-size="8.8" fill="#fff" textLength="28.7" lengthAdjust="spacingAndGlyphs">0.06000</text>
<text x="917" y="370.5" font-size="8.8" fill="#fff" textLength="28.7" lengthAdjust="spacingAndGlyphs">0.05588</text>
<rect x="894.3" y="338.9" width="16.9" height="10.6" rx="1" fill="#f23645"/>
<text x="897.3" y="347.3" font-size="8.8" fill="#fff" textLength="11" lengthAdjust="spacingAndGlyphs">MA</text>
<rect x="912.5" y="338.9" width="37.3" height="10.6" fill="#f23645"/>
<text x="917" y="347.3" font-size="8.8" fill="#fff" textLength="28.7" lengthAdjust="spacingAndGlyphs">0.06881</text>
<text x="917" y="405.2" font-size="8.8" fill="#131722" textLength="20.2" lengthAdjust="spacingAndGlyphs">80.00</text>
<text x="917" y="438.8" font-size="8.8" fill="#131722" textLength="20.2" lengthAdjust="spacingAndGlyphs">60.00</text>
<text x="917" y="472.6" font-size="8.8" fill="#131722" textLength="20.2" lengthAdjust="spacingAndGlyphs">40.00</text>
<clipPath id="c20"><rect x="913" y="490" width="42" height="14.6"/></clipPath>
<g clip-path="url(#c20)"><text x="917" y="506.6" font-size="8.8" fill="#131722" textLength="20.2" lengthAdjust="spacingAndGlyphs">20.00</text></g>
<rect x="893.3" y="441" width="17.9" height="11.5" rx="1" fill="#7e57c2"/>
<text x="896.3" y="449.8" font-size="8.8" fill="#fff" textLength="12" lengthAdjust="spacingAndGlyphs">RSI</text>
<rect x="912" y="441" width="29" height="11.5" fill="#7e57c2"/>
<text x="917" y="449.8" font-size="8.8" fill="#fff" textLength="20.2" lengthAdjust="spacingAndGlyphs">53.86</text>
<clipPath id="ct"><rect x="9" y="506" width="903" height="18"/></clipPath>
<g clip-path="url(#ct)">
<text x="9.3" y="517.2" font-size="8.8" fill="#131722" textLength="14.23" lengthAdjust="spacingAndGlyphs" text-anchor="middle">Nov</text>
<text x="102.4" y="517.2" font-size="8.8" fill="#131722" textLength="14.23" lengthAdjust="spacingAndGlyphs" text-anchor="middle">Dec</text>
<text x="196.7" y="517.2" font-size="8.8" fill="#131722" textLength="17.8" lengthAdjust="spacingAndGlyphs" text-anchor="middle">2023</text>
<text x="291.3" y="517.2" font-size="8.8" fill="#131722" textLength="13.79" lengthAdjust="spacingAndGlyphs" text-anchor="middle">Feb</text>
<text x="377.5" y="517.2" font-size="8.8" fill="#131722" textLength="13.78" lengthAdjust="spacingAndGlyphs" text-anchor="middle">Mar</text>
<text x="472.8" y="517.2" font-size="8.8" fill="#131722" textLength="12.45" lengthAdjust="spacingAndGlyphs" text-anchor="middle">Apr</text>
<text x="563.7" y="517.2" font-size="8.8" fill="#131722" textLength="15.11" lengthAdjust="spacingAndGlyphs" text-anchor="middle">May</text>
<text x="657.5" y="517.2" font-size="8.8" fill="#131722" textLength="12.9" lengthAdjust="spacingAndGlyphs" text-anchor="middle">Jun</text>
<text x="749.5" y="517.2" font-size="8.8" fill="#131722" textLength="10.23" lengthAdjust="spacingAndGlyphs" text-anchor="middle">Jul</text>
<text x="843.7" y="517.2" font-size="8.8" fill="#131722" textLength="14.24" lengthAdjust="spacingAndGlyphs" text-anchor="middle">Aug</text>
<text x="904.6" y="517.2" font-size="8.8" fill="#131722" textLength="8.9" lengthAdjust="spacingAndGlyphs" text-anchor="middle">21</text>
</g>
<circle cx="847.1" cy="368" r="6.4" fill="#fff" stroke="#a02ab4" stroke-width="1.1"/>
<path d="M849.4 364.1L844.7 367.9L847.2 368.4L845 371.9L849.7 368.1L847.2 367.6Z" fill="#a02ab4"/>
<g transform="translate(9.1,532.6) scale(0.358,0.356)" fill="#131722"><path d="M14 18H7V7H0V0h14z"/><circle cx="20" cy="4" r="3.6"/><path d="M28 18h-8l7.5-18h8z"/></g>
<text x="24.4" y="538.7" font-size="8.8" fill="#131722" textLength="47.5" lengthAdjust="spacingAndGlyphs">TradingView</text>
</svg></body></html>
